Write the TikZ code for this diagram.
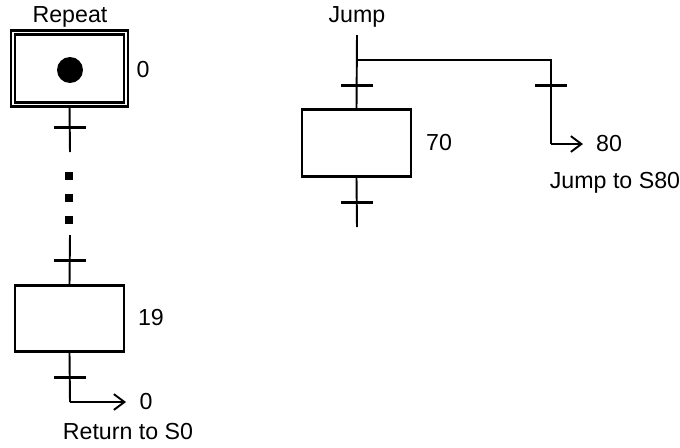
\documentclass[tikz,border=0pt]{standalone}
\usepackage{fontspec}
\setmainfont{Liberation Sans}
\usetikzlibrary{arrows.meta,positioning}

\begin{document}
\begin{tikzpicture}[
  x=0.02cm, y=-0.02cm,
  >={Straight Barb[length=6pt,width=9pt]},
  every node/.style={font=\fontsize{13.2}{15}\selectfont},
  stepbox/.style={draw, line width=1.6pt, minimum width=2.18cm,
                  minimum height=1.33cm, inner sep=0pt},
  initbox/.style={draw, double, line width=1.3pt, double distance=1.1pt,
                  minimum width=2.26cm, minimum height=1.44cm, inner sep=0pt},
  tbar/.style={fill, inner sep=0pt, minimum width=0.64cm, minimum height=0.06cm},
  dotsq/.style={fill, inner sep=0pt, minimum size=0.15cm},
  link/.style={line width=1.1pt}
]
  \useasboundingbox (0,0) rectangle (680,447);

  % left sequence
  \node (rep) at (70,17) {Repeat};
  \node[initbox] (s0) at (69.5,68.5) {};
  \node[circle, fill, inner sep=0pt, minimum size=0.52cm] (tok) at (70,70) {};
  \node (n0) at (143,70) {0};
  \node[tbar] (t0) at (70,127) {};
  \coordinate (e0) at (70,152);
  \node[dotsq] (d1) at (69,176) {};
  \node[dotsq] (d2) at (69,198) {};
  \node[dotsq] (d3) at (69,220) {};
  \coordinate (b19) at (70,235);
  \node[tbar] (t18) at (70,260) {};
  \node[stepbox] (s19) at (69.5,318.5) {};
  \node (n19) at (151,318) {19};
  \node[tbar] (t19) at (70,377) {};
  \coordinate (k19) at (70,402);
  \coordinate (r0) at (126,402);
  \node (m0) at (146,402) {0};
  \node (ret) at (128,432) {Return to S0};

  \draw[link] (s0.south) -- (e0);
  \draw[link] (b19) -- (s19.north);
  \draw[link] (s19.south) -- (k19);
  \draw[link, ->] (k19) -- (r0);

  % right sequence with jump
  \node (jmp) at (357,17) {Jump};
  \coordinate (j0) at (357,35);
  \coordinate (j1) at (357,60);
  \coordinate (j2) at (551,60);
  \node[tbar] (t69) at (357,85) {};
  \node[tbar] (t80) at (551,85) {};
  \node[stepbox] (s70) at (356.5,143) {};
  \node (n70) at (439,143) {70};
  \node[tbar] (t70) at (357,202) {};
  \coordinate (e70) at (357,227);
  \coordinate (j3) at (551,144);
  \coordinate (j4) at (583,144);
  \node (n80) at (609,144) {80};
  \node (jto) at (615,183) {Jump to S80};

  \draw[link] (j0) -- (s70.north);
  \draw[link] (j1) -- (j2) -- (j3);
  \draw[link, ->] (j3) -- (j4);
  \draw[link] (s70.south) -- (e70);
\end{tikzpicture}
\end{document}
